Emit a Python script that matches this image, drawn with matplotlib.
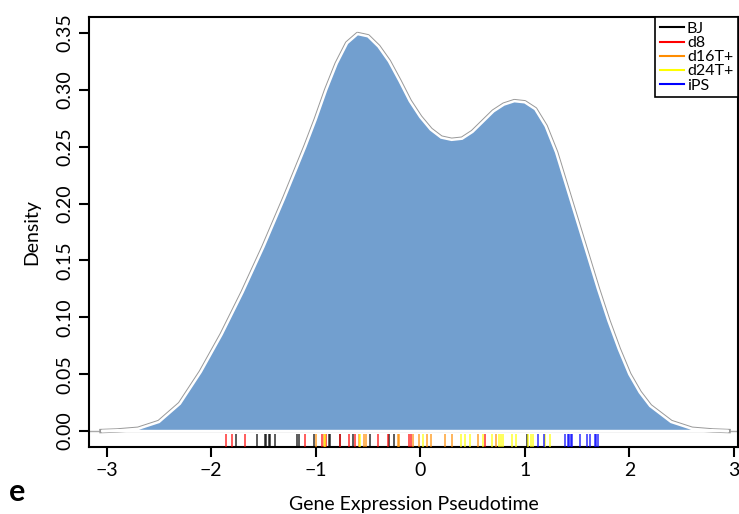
import numpy as np
import matplotlib
matplotlib.use("Agg")
import matplotlib.pyplot as plt
import matplotlib.transforms as mtransforms
from matplotlib.lines import Line2D

plt.rcParams['font.family'] = ['Lato', 'DejaVu Sans']

# density curve
dens_x = [-3.05, -2.9, -2.7, -2.5, -2.3, -2.1, -1.9, -1.7, -1.5, -1.3, -1.1, -1.0,
          -0.9, -0.8, -0.7, -0.6, -0.5, -0.4, -0.3, -0.2, -0.1, 0.0, 0.1, 0.2,
          0.3, 0.4, 0.5, 0.6, 0.7, 0.8, 0.9, 1.0, 1.1, 1.2, 1.3, 1.4, 1.5, 1.6,
          1.7, 1.8, 1.9, 2.0, 2.1, 2.2, 2.4, 2.6, 2.8, 2.95]
dens_y = [0.0, 0.0005, 0.002, 0.008, 0.024, 0.052, 0.085, 0.122, 0.162, 0.205,
          0.250, 0.274, 0.300, 0.323, 0.341, 0.349, 0.347, 0.338, 0.325, 0.308,
          0.290, 0.276, 0.265, 0.258, 0.256, 0.257, 0.263, 0.272, 0.281, 0.287,
          0.290, 0.289, 0.283, 0.268, 0.245, 0.215, 0.185, 0.155, 0.125, 0.097,
          0.072, 0.050, 0.034, 0.022, 0.008, 0.002, 0.0005, 0.0]

# rug: pseudotime of each sample, per group
bj = [-1.759, -1.567, -1.481, -1.472, -1.450, -1.440, -1.389, -1.175, -1.163,
      -1.014, -0.876, -0.859, -0.764, -0.643, -0.477, -0.301, -0.254, 1.022]
d8 = [-1.855, -1.804, -1.679, -1.105, -0.936, -0.901, -0.770, -0.684, -0.627,
      -0.400, -0.311, -0.107, -0.088, 0.624]
d16 = [-1.000, -0.923, -0.586, -0.541, -0.524, -0.215, -0.203, -0.069, -0.011,
       0.065, 0.100, 0.234, 0.299, 0.557, 0.720]
d24 = [-0.911, -0.579, 0.027, 0.394, 0.429, 0.474, 0.601, 0.684, 0.754, 0.777,
       0.796, 0.882, 0.917, 1.032, 1.055, 1.074, 1.198, 1.242]
ips = [1.124, 1.185, 1.389, 1.409, 1.421, 1.440, 1.453, 1.526, 1.600, 1.622,
       1.670, 1.686, 1.699]

groups = ['BJ', 'd8', 'd16T+', 'd24T+', 'iPS']
group_vals = [bj, d8, d16, d24, ips]
group_cols = ['black', 'red', 'darkorange', 'yellow', 'blue']

fig = plt.figure(figsize=(7.39, 5.14), dpi=100)
ax = fig.add_axes([0.1204, 0.1304, 0.8782, 0.8366])

ax.axhline(0, color='#aaaaaa', lw=1, zorder=0)
ax.plot(dens_x, dens_y, color='#999999', lw=3.2, zorder=1)
ax.fill(dens_x, dens_y, facecolor='#729fcf', edgecolor='white', lw=1.8, zorder=2)

trans = mtransforms.blended_transform_factory(ax.transData, ax.transAxes)
for vals, col in zip(group_vals, group_cols):
    ax.vlines(vals, 0, 0.03, colors=col, lw=1.2, alpha=0.75, transform=trans, zorder=3)

ax.set_xlim(-3.17, 3.04)
ax.set_ylim(-0.014, 0.364)
ax.set_xticks([-3, -2, -1, 0, 1, 2, 3])
ax.set_xticklabels(['\u22123', '\u22122', '\u22121', '0', '1', '2', '3'])
ax.set_yticks(np.arange(0, 0.36, 0.05))
ax.set_yticklabels(['%.2f' % t for t in np.arange(0, 0.36, 0.05)], rotation=90, va='center')
ax.tick_params(length=7, width=1.5, labelsize=14, pad=4)
for s in ax.spines.values():
    s.set_linewidth(1.5)

ax.set_xlabel('Gene Expression Pseudotime', fontsize=14, labelpad=12)
ax.set_ylabel('Density', fontsize=14, labelpad=12)

handles = [Line2D([], [], color=c, lw=1.5) for c in group_cols]
leg = ax.legend(handles, groups, loc='upper right', borderaxespad=0, fontsize=11.5,
                handlelength=1.5, handletextpad=0.2, labelspacing=0.0,
                borderpad=0.3, fancybox=False, framealpha=1)
leg.get_frame().set_edgecolor('black')
leg.get_frame().set_linewidth(1.2)

fig.text(0.012, 0.025, 'e', fontsize=22, fontweight='bold')

fig.savefig('out.png', dpi=100)
